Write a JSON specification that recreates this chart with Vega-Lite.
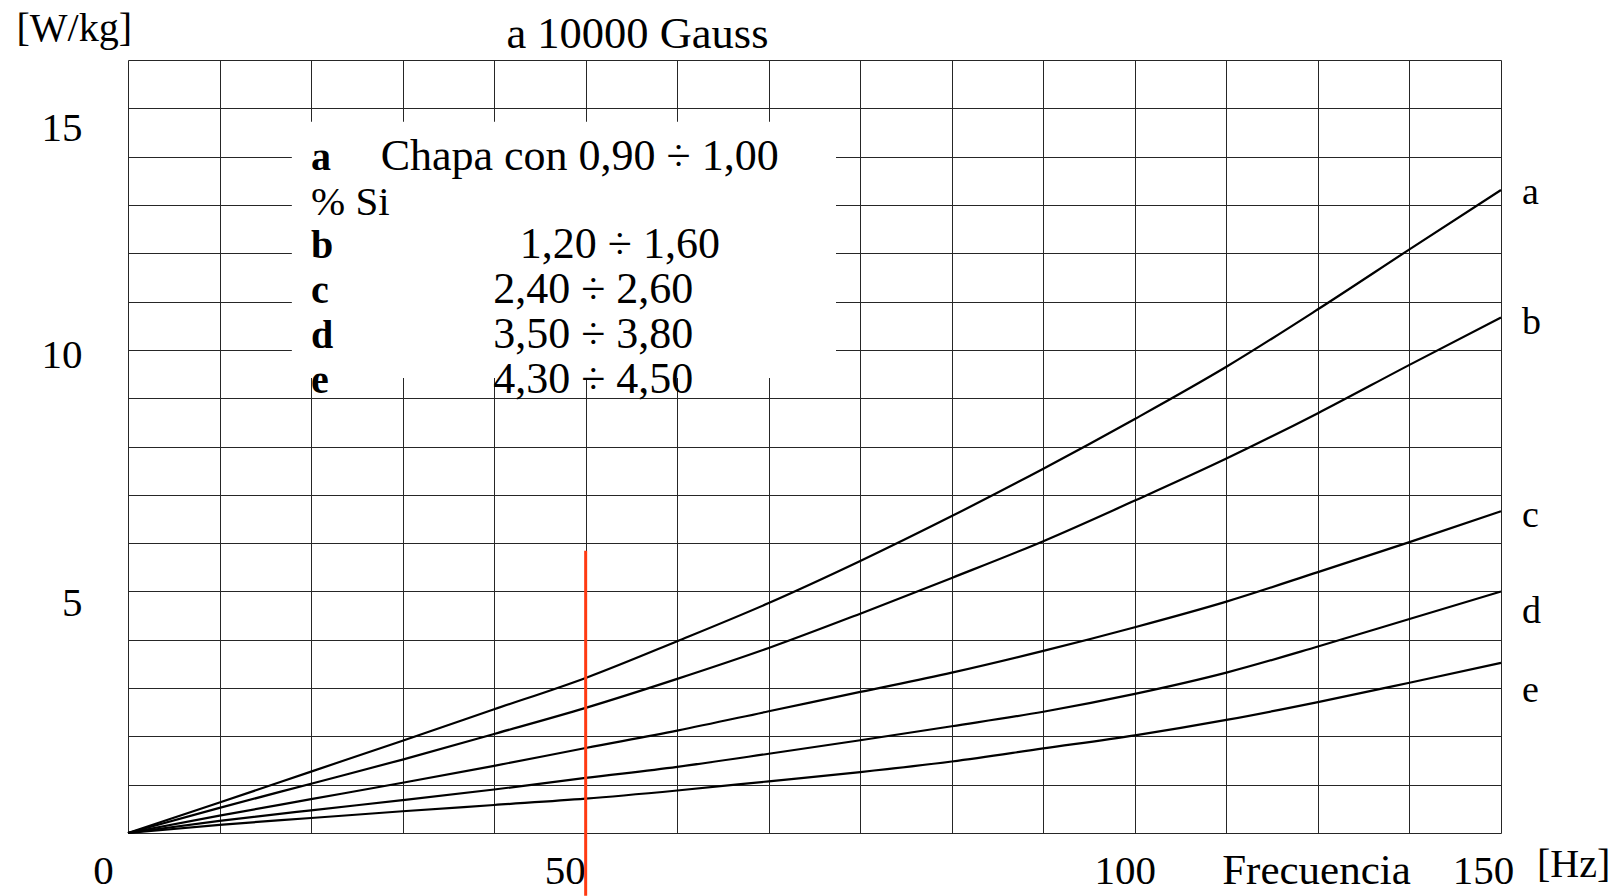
{
  "$schema": "https://vega.github.io/schema/vega-lite/v6.json",
  "width": 1373,
  "height": 773,
  "autosize": {"type": "none"},
  "padding": {"left": 128, "top": 60, "right": 113, "bottom": 63},
  "background": "white",
  "config": {"view": {"stroke": null}, "font": "Liberation Serif"},
  "datasets": {
    "curves": [
      {"f":0,"s":"a","p":0},{"f":10,"s":"a","p":0.63},{"f":20,"s":"a","p":1.27},{"f":30,"s":"a","p":1.91},{"f":40,"s":"a","p":2.56},{"f":50,"s":"a","p":3.21},{"f":60,"s":"a","p":3.97},{"f":70,"s":"a","p":4.76},{"f":80,"s":"a","p":5.63},{"f":90,"s":"a","p":6.56},{"f":100,"s":"a","p":7.54},{"f":110,"s":"a","p":8.57},{"f":120,"s":"a","p":9.65},{"f":130,"s":"a","p":10.84},{"f":140,"s":"a","p":12.08},{"f":150,"s":"a","p":13.31},
      {"f":0,"s":"b","p":0},{"f":10,"s":"b","p":0.52},{"f":20,"s":"b","p":1.02},{"f":30,"s":"b","p":1.52},{"f":40,"s":"b","p":2.05},{"f":50,"s":"b","p":2.59},{"f":60,"s":"b","p":3.19},{"f":70,"s":"b","p":3.83},{"f":80,"s":"b","p":4.54},{"f":90,"s":"b","p":5.28},{"f":100,"s":"b","p":6.04},{"f":110,"s":"b","p":6.88},{"f":120,"s":"b","p":7.75},{"f":130,"s":"b","p":8.69},{"f":140,"s":"b","p":9.69},{"f":150,"s":"b","p":10.67},
      {"f":0,"s":"c","p":0},{"f":10,"s":"c","p":0.36},{"f":20,"s":"c","p":0.70},{"f":30,"s":"c","p":1.04},{"f":40,"s":"c","p":1.39},{"f":50,"s":"c","p":1.76},{"f":60,"s":"c","p":2.12},{"f":70,"s":"c","p":2.52},{"f":80,"s":"c","p":2.92},{"f":90,"s":"c","p":3.32},{"f":100,"s":"c","p":3.77},{"f":110,"s":"c","p":4.26},{"f":120,"s":"c","p":4.79},{"f":130,"s":"c","p":5.40},{"f":140,"s":"c","p":6.02},{"f":150,"s":"c","p":6.66},
      {"f":0,"s":"d","p":0},{"f":10,"s":"d","p":0.25},{"f":20,"s":"d","p":0.47},{"f":30,"s":"d","p":0.68},{"f":40,"s":"d","p":0.90},{"f":50,"s":"d","p":1.14},{"f":60,"s":"d","p":1.37},{"f":70,"s":"d","p":1.64},{"f":80,"s":"d","p":1.92},{"f":90,"s":"d","p":2.21},{"f":100,"s":"d","p":2.51},{"f":110,"s":"d","p":2.88},{"f":120,"s":"d","p":3.32},{"f":130,"s":"d","p":3.86},{"f":140,"s":"d","p":4.43},{"f":150,"s":"d","p":5.00},
      {"f":0,"s":"e","p":0},{"f":10,"s":"e","p":0.17},{"f":20,"s":"e","p":0.31},{"f":30,"s":"e","p":0.45},{"f":40,"s":"e","p":0.58},{"f":50,"s":"e","p":0.71},{"f":60,"s":"e","p":0.88},{"f":70,"s":"e","p":1.07},{"f":80,"s":"e","p":1.26},{"f":90,"s":"e","p":1.48},{"f":100,"s":"e","p":1.75},{"f":110,"s":"e","p":2.02},{"f":120,"s":"e","p":2.34},{"f":130,"s":"e","p":2.71},{"f":140,"s":"e","p":3.11},{"f":150,"s":"e","p":3.52}
    ],
    "box": [{"f1": 17.9, "f2": 77.35, "p1": 9.42, "p2": 14.72}],
    "legend": [
      {"f": 20, "p": 13.72, "t": "a", "k": "key"},
      {"f": 27.6, "p": 13.72, "t": "Chapa con 0,90 ÷ 1,00", "k": "text"},
      {"f": 20, "p": 12.79, "t": "% Si", "k": "note"},
      {"f": 20, "p": 11.90, "t": "b", "k": "key"},
      {"f": 42.8, "p": 11.90, "t": "1,20 ÷ 1,60", "k": "text"},
      {"f": 20, "p": 10.97, "t": "c", "k": "key"},
      {"f": 39.9, "p": 10.97, "t": "2,40 ÷ 2,60", "k": "text"},
      {"f": 20, "p": 10.04, "t": "d", "k": "key"},
      {"f": 39.9, "p": 10.04, "t": "3,50 ÷ 3,80", "k": "text"},
      {"f": 20, "p": 9.11, "t": "e", "k": "key"},
      {"f": 39.9, "p": 9.11, "t": "4,30 ÷ 4,50", "k": "text"}
    ],
    "ends": [
      {"f": 150, "p": 13.02, "t": "a"},
      {"f": 150, "p": 10.33, "t": "b"},
      {"f": 150, "p": 6.33, "t": "c"},
      {"f": 150, "p": 4.35, "t": "d"},
      {"f": 150, "p": 2.71, "t": "e"}
    ],
    "marker": [{"f": 50, "p1": 5.84, "p2": -1.3}]
  },
  "resolve": {"axis": {"x": "independent", "y": "independent"}},
  "layer": [
    {
      "data": {"name": "curves"},
      "mark": {"type": "line", "interpolate": "monotone", "color": "black", "strokeWidth": 2.2},
      "encoding": {
        "x": {
          "field": "f", "type": "quantitative",
          "scale": {"domain": [0, 150], "nice": false, "zero": false},
          "axis": {
            "orient": "bottom",
            "values": [0,10,20,30,40,50,60,70,80,90,100,110,120,130,140,150],
            "grid": true, "gridColor": "#262626", "gridWidth": 1, "gridOpacity": 1,
            "domain": false, "ticks": false, "tickSize": 0,
            "labelExpr": "datum.value == 0 ? '0' : datum.value == 50 ? '50' : datum.value == 110 ? '100' : datum.value == 150 ? '150' : ''",
            "labelFont": "Liberation Serif", "labelFontSize": 41, "labelColor": "black",
            "labelBaseline": "alphabetic", "labelPadding": 50,
            "labelOffset": {"condition": [{"test": "datum.value == 0", "value": -25}, {"test": "datum.value == 110", "value": -10}, {"test": "datum.value == 150", "value": -18}], "value": -21},
            "labelOverlap": false, "labelBound": false, "labelFlush": false,
            "title": "Frecuencia", "titleFont": "Liberation Serif", "titleFontSize": 43, "titleFontWeight": "normal", "titleColor": "black",
            "titleX": 1188, "titleY": 50, "titleAlign": "center", "titleBaseline": "alphabetic"
          }
        },
        "y": {
          "field": "p", "type": "quantitative",
          "scale": {"domain": [0, 16], "nice": false, "zero": false},
          "axis": {
            "orient": "left",
            "values": [0,1,2,3,4,5,6,7,8,9,10,11,12,13,14,15,16],
            "grid": true, "gridColor": "#262626", "gridWidth": 1, "gridOpacity": 1,
            "domain": false, "ticks": false, "tickSize": 0,
            "labelExpr": "datum.value == 5 || datum.value == 10 || datum.value == 15 ? datum.label : ''",
            "labelFont": "Liberation Serif", "labelFontSize": 41, "labelColor": "black",
            "labelAlign": "right", "labelBaseline": "alphabetic", "labelPadding": 46,
            "labelOffset": {"condition": [{"test": "datum.value == 15", "value": 32}, {"test": "datum.value == 10", "value": 18}], "value": 24.5},
            "labelOverlap": false, "labelBound": false, "labelFlush": false,
            "title": "[W/kg]", "titleFont": "Liberation Serif", "titleFontSize": 40, "titleFontWeight": "normal", "titleColor": "black",
            "titleAngle": 0, "titleX": -112, "titleY": -20, "titleAlign": "left", "titleBaseline": "alphabetic"
          }
        },
        "detail": {"field": "s"}
      }
    },
    {
      "data": {"name": "box"},
      "mark": {"type": "rect", "fill": "white", "strokeWidth": 0},
      "encoding": {
        "x": {
          "field": "f1", "type": "quantitative",
          "scale": {"domain": [0, 150], "nice": false, "zero": false},
          "axis": {
            "orient": "top", "grid": false, "labels": false, "ticks": false, "domain": false,
            "title": "a 10000 Gauss", "titleFont": "Liberation Serif", "titleFontSize": 44.5, "titleFontWeight": "normal", "titleColor": "black",
            "titleX": 509, "titleY": -13, "titleAlign": "center", "titleBaseline": "alphabetic"
          }
        },
        "x2": {"field": "f2"},
        "y": {"field": "p1", "type": "quantitative", "scale": {"domain": [0, 16], "nice": false, "zero": false}, "axis": null},
        "y2": {"field": "p2"}
      }
    },
    {
      "data": {"name": "legend"},
      "transform": [{"filter": "datum.k == 'key'"}],
      "mark": {"type": "text", "align": "left", "baseline": "alphabetic", "font": "Liberation Serif", "fontSize": 40, "fontWeight": "bold", "color": "black"},
      "encoding": {
        "x": {"field": "f", "type": "quantitative", "scale": {"domain": [0, 150], "nice": false, "zero": false}, "axis": null},
        "y": {"field": "p", "type": "quantitative", "scale": {"domain": [0, 16], "nice": false, "zero": false}, "axis": null},
        "text": {"field": "t"}
      }
    },
    {
      "data": {"name": "legend"},
      "transform": [{"filter": "datum.k == 'note'"}],
      "mark": {"type": "text", "align": "left", "baseline": "alphabetic", "font": "Liberation Serif", "fontSize": 41, "color": "black"},
      "encoding": {
        "x": {"field": "f", "type": "quantitative", "scale": {"domain": [0, 150], "nice": false, "zero": false}, "axis": null},
        "y": {"field": "p", "type": "quantitative", "scale": {"domain": [0, 16], "nice": false, "zero": false}, "axis": null},
        "text": {"field": "t"}
      }
    },
    {
      "data": {"name": "legend"},
      "transform": [{"filter": "datum.k == 'text'"}],
      "mark": {"type": "text", "align": "left", "baseline": "alphabetic", "font": "Liberation Serif", "fontSize": 44, "color": "black"},
      "encoding": {
        "x": {"field": "f", "type": "quantitative", "scale": {"domain": [0, 150], "nice": false, "zero": false}, "axis": null},
        "y": {"field": "p", "type": "quantitative", "scale": {"domain": [0, 16], "nice": false, "zero": false}, "axis": null},
        "text": {"field": "t"}
      }
    },
    {
      "data": {"name": "ends"},
      "mark": {"type": "text", "align": "left", "baseline": "alphabetic", "dx": 21, "font": "Liberation Serif", "fontSize": 38, "color": "black"},
      "encoding": {
        "x": {"field": "f", "type": "quantitative", "scale": {"domain": [0, 150], "nice": false, "zero": false}, "axis": null},
        "y": {"field": "p", "type": "quantitative", "scale": {"domain": [0, 16], "nice": false, "zero": false}, "axis": null},
        "text": {"field": "t"}
      }
    },
    {
      "data": {"values": [{}]},
      "mark": {"type": "text", "text": "[Hz]", "align": "left", "baseline": "alphabetic", "dx": 36, "dy": 44, "font": "Liberation Serif", "fontSize": 40, "color": "black"},
      "encoding": {
        "x": {"datum": 150, "type": "quantitative", "scale": {"domain": [0, 150], "nice": false, "zero": false}, "axis": null},
        "y": {"datum": 0, "type": "quantitative", "scale": {"domain": [0, 16], "nice": false, "zero": false}, "axis": null}
      }
    },
    {
      "data": {"name": "marker"},
      "mark": {"type": "rule", "color": "#ff3a12", "strokeWidth": 3, "clip": false},
      "encoding": {
        "x": {"field": "f", "type": "quantitative", "scale": {"domain": [0, 150], "nice": false, "zero": false}, "axis": null},
        "y": {"field": "p1", "type": "quantitative", "scale": {"domain": [0, 16], "nice": false, "zero": false}, "axis": null},
        "y2": {"field": "p2"}
      }
    }
  ]
}
